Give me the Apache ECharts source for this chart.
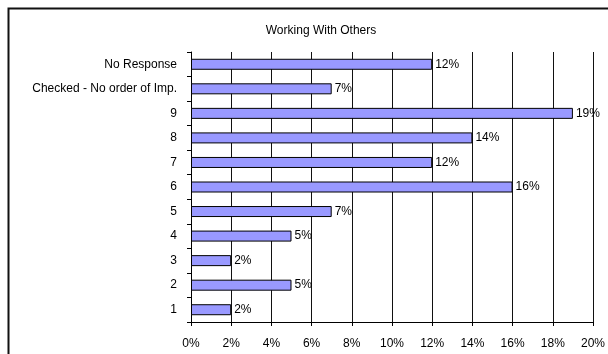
<!DOCTYPE html>
<html>
<head>
<meta charset="utf-8">
<script src="https://cdn.jsdelivr.net/npm/echarts@6/dist/echarts.min.js"></script>
<style>
  html, body { margin: 0; padding: 0; background: #fff; }
  #chart { width: 608px; height: 354px; }
</style>
</head>
<body>
<div id="chart"></div>
<script>
// Ratings listed bottom to top, as the horizontal bar chart stacks them
const categories = ['1', '2', '3', '4', '5', '6', '7', '8', '9', 'Checked - No order of Imp.', 'No Response'];
const shares = [2, 5, 2, 5, 7, 16, 12, 14, 19, 7, 12];
const xTicks = { min: 0, max: 20, step: 2 };
const titleText = 'Working With Others';

const chart = echarts.init(document.getElementById('chart'), null, { renderer: 'canvas' });
const font = 'Liberation Sans, Arial, sans-serif';

chart.setOption({
  animation: false,
  backgroundColor: '#fff',
  title: {
    text: titleText,
    left: 316, top: 20, textAlign: 'center',
    textStyle: { fontFamily: font, fontSize: 12, fontWeight: 'normal', color: '#000' }
  },
  graphic: [{
    type: 'rect',
    shape: { x: 8.5, y: 8.5, width: 640, height: 400 },
    style: { fill: 'none', stroke: '#111', lineWidth: 2 },
    silent: true
  }],
  grid: { left: 191, right: 11, top: 52, bottom: 32, containLabel: false },
  xAxis: {
    type: 'value',
    min: xTicks.min, max: xTicks.max, interval: xTicks.step,
    axisLine: { show: true, lineStyle: { color: '#000', width: 1 } },
    axisTick: { show: true, length: 4, inside: false, lineStyle: { color: '#000' } },
    axisLabel: { formatter: '{value}%', fontFamily: font, fontSize: 12, color: '#000', margin: 16 },
    splitLine: { show: true, lineStyle: { color: '#111', width: 1 } }
  },
  yAxis: {
    type: 'category',
    data: categories,
    axisLine: { show: true, lineStyle: { color: '#000', width: 1 } },
    axisTick: { show: true, length: 4, alignWithLabel: false, lineStyle: { color: '#000' } },
    axisLabel: { fontFamily: font, fontSize: 12, color: '#000', margin: 14 },
    splitLine: { show: false }
  },
  series: [{
    type: 'bar',
    data: shares,
    barWidth: 11,
    itemStyle: { color: '#9999ff', borderColor: '#000', borderWidth: 1 },
    label: {
      show: true, position: 'right', distance: 3,
      formatter: p => p.value + '%',
      fontFamily: font, fontSize: 12, color: '#000'
    }
  }]
});
</script>
</body>
</html>
